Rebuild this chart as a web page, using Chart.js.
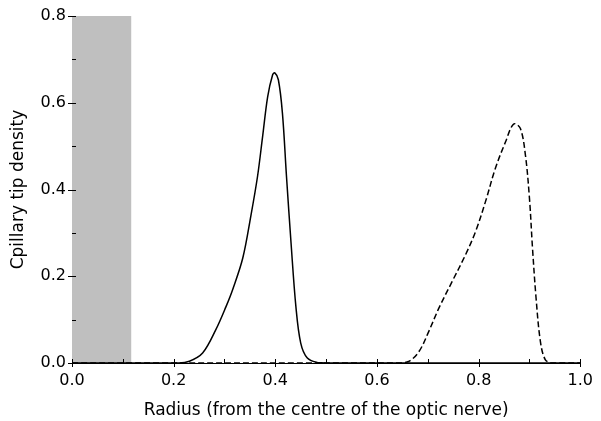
<!DOCTYPE html>
<html>
<head>
<meta charset="utf-8">
<script src="https://cdn.jsdelivr.net/npm/chart.js@4"></script>
<style>
  html, body { margin: 0; padding: 0; background: #fff; }
  #wrap { width: 601px; height: 421px; }
</style>
</head>
<body>
<div id="wrap"><canvas id="chart"></canvas></div>
<script>
// data

// radius values (x) and densities (y) for the solid curve
const solidX = [0.0, 0.21, 0.231, 0.257, 0.283, 0.303, 0.316, 0.336, 0.352, 0.365, 0.375, 0.385, 0.3946, 0.399, 0.406, 0.414, 0.422, 0.431, 0.4405, 0.450, 0.463, 0.483, 0.50, 1.0];
const solidY = [0.0, 0.0, 0.004, 0.023, 0.077, 0.130, 0.169, 0.242, 0.340, 0.430, 0.522, 0.614, 0.664, 0.669, 0.653, 0.576, 0.430, 0.276, 0.130, 0.046, 0.0115, 0.001, 0.0, 0.0];

// radius values (x) and densities (y) for the dashed curve
const dashedX = [0.0, 0.64, 0.663, 0.683, 0.702, 0.722, 0.748, 0.774, 0.794, 0.8135, 0.833, 0.853, 0.869, 0.882, 0.892, 0.900, 0.906, 0.913, 0.9215, 0.931, 0.944, 0.96, 1.0];
const dashedY = [0.0, 0.0, 0.004, 0.027, 0.073, 0.127, 0.188, 0.249, 0.303, 0.372, 0.449, 0.510, 0.551, 0.541, 0.480, 0.380, 0.265, 0.150, 0.050, 0.008, 0.0, 0.0, 0.0];

// shaded band near the optic nerve (x range) and its height
const shadedX = [0.0, 0.117];
const shadedTop = 0.8;

const xTitle = 'Radius (from the centre of the optic nerve)';
const yTitle = 'Cpillary tip density';

const toPoints = (xs, ys) => xs.map((x, i) => ({x: x, y: ys[i]}));

const FONT = '"DejaVu Sans", sans-serif';

// draw major (crossing) and minor (inside) tick marks
const tickMarks = {
  id: 'tickMarks',
  afterDatasetsDraw(chart) {
    const c = chart.ctx;
    const xs = chart.scales.x, ys = chart.scales.y;
    const area = chart.chartArea;
    c.save();
    c.strokeStyle = '#000';
    c.lineWidth = 1;
    c.beginPath();
    xs.ticks.forEach((t, i) => {
      const px = Math.round(xs.getPixelForValue(t.value)) + 0.5;
      const major = i % 2 === 0;
      c.moveTo(px, area.bottom + (major ? 4 : 0));
      c.lineTo(px, area.bottom - 4);
    });
    ys.ticks.forEach((t, i) => {
      const py = Math.round(ys.getPixelForValue(t.value)) + 0.5;
      const major = i % 2 === 0;
      c.moveTo(area.left - (major ? 4 : 0), py);
      c.lineTo(area.left + 4, py);
    });
    c.stroke();
    c.restore();
  }
};

new Chart(document.getElementById('chart'), {
  type: 'scatter',
  data: {
    datasets: [
      {
        label: 'shaded',
        data: shadedX.map(x => ({x: x, y: shadedTop})),
        showLine: true,
        fill: 'origin',
        backgroundColor: '#bfbfbf',
        borderWidth: 0,
        pointRadius: 0,
        order: 3
      },
      {
        label: 'solid',
        data: toPoints(solidX, solidY),
        showLine: true,
        borderColor: '#000',
        borderWidth: 1.5,
        pointRadius: 0,
        tension: 0.35,
        clip: 5,
        order: 1
      },
      {
        label: 'dashed',
        data: toPoints(dashedX, dashedY),
        showLine: true,
        borderColor: '#000',
        borderWidth: 1.5,
        borderDash: [6, 3],
        pointRadius: 0,
        tension: 0.35,
        clip: 5,
        order: 2
      }
    ]
  },
  options: {
    responsive: true,
    maintainAspectRatio: false,
    animation: false,
    layout: { padding: { left: 0, right: 19, top: 16, bottom: 0 } },
    plugins: {
      legend: { display: false },
      tooltip: { enabled: false }
    },
    scales: {
      x: {
        type: 'linear',
        min: 0,
        max: 1,
        afterFit: s => { s.height = 58; },
        grid: { drawOnChartArea: false, drawTicks: false },
        border: { display: true, color: '#000', width: 1 },
        ticks: {
          stepSize: 0.1,
          autoSkip: false,
          maxRotation: 0,
          padding: 8,
          color: '#000',
          font: { family: FONT, size: 16 },
          callback: (v, i) => i % 2 === 0 ? v.toFixed(1) : ''
        },
        title: {
          display: true,
          text: xTitle,
          color: '#000',
          font: { family: FONT, size: 17 },
          padding: { top: 0, bottom: 0 }
        }
      },
      y: {
        type: 'linear',
        min: 0,
        max: 0.8,
        afterFit: s => { s.width = 72; },
        grid: { drawOnChartArea: false, drawTicks: false },
        border: { display: true, color: '#000', width: 1 },
        ticks: {
          stepSize: 0.1,
          autoSkip: false,
          padding: 6,
          color: '#000',
          font: { family: FONT, size: 16 },
          callback: (v, i) => i % 2 === 0 ? v.toFixed(1) : ''
        },
        title: {
          display: true,
          text: yTitle,
          color: '#000',
          font: { family: FONT, size: 17 },
          padding: { top: 8, bottom: 0 }
        }
      }
    }
  },
  plugins: [tickMarks]
});
</script>
</body>
</html>
